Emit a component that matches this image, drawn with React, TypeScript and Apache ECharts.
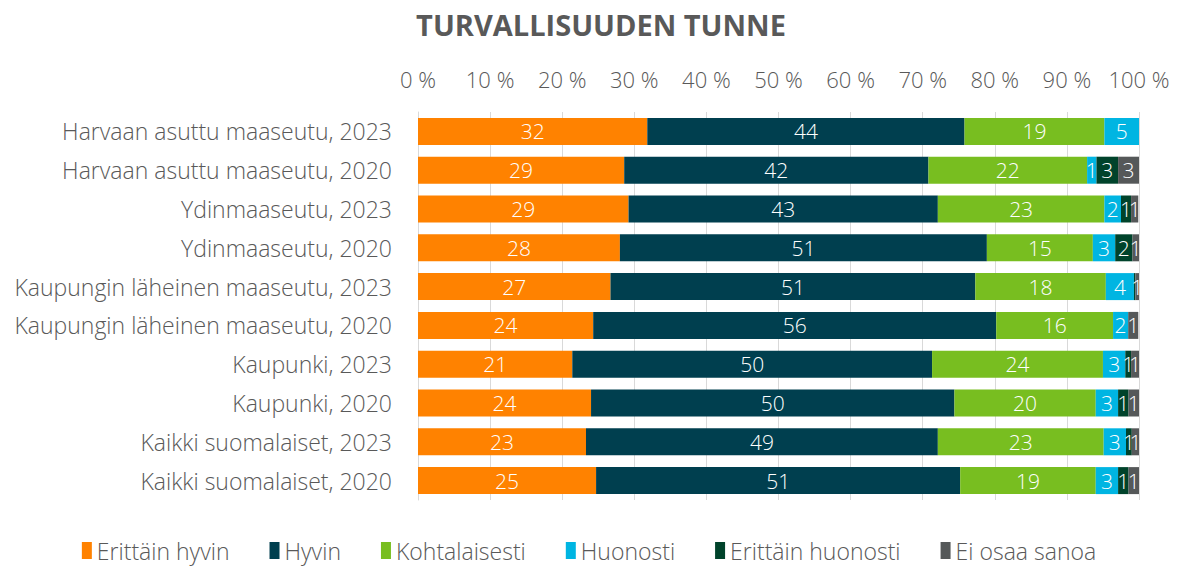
import React, { useEffect, useRef } from "react";
import * as echarts from "echarts";

const categories = [
  "Harvaan asuttu maaseutu, 2023",
  "Harvaan asuttu maaseutu, 2020",
  "Ydinmaaseutu, 2023",
  "Ydinmaaseutu, 2020",
  "Kaupungin läheinen maaseutu, 2023",
  "Kaupungin läheinen maaseutu, 2020",
  "Kaupunki, 2023",
  "Kaupunki, 2020",
  "Kaikki suomalaiset, 2023",
  "Kaikki suomalaiset, 2020",
];

const erittainHyvin = [31.8, 28.6, 29.2, 28.0, 26.7, 24.3, 21.4, 24.0, 23.3, 24.7];
const hyvin = [44.0, 42.2, 42.9, 50.9, 50.6, 55.9, 49.9, 50.4, 48.8, 50.5];
const kohtalaisesti = [19.4, 22.0, 23.1, 14.7, 18.1, 16.2, 23.7, 19.6, 23.0, 18.8];
const huonosti = [4.8, 1.3, 2.3, 3.1, 3.9, 2.1, 3.1, 3.1, 3.1, 3.1];
const erittainHuonosti = [0, 3.0, 1.4, 2.4, 0.2, 0, 0.8, 1.45, 0.8, 1.45];
const eiOsaaSanoa = [0, 2.9, 1.0, 0.9, 0.5, 1.4, 1.1, 1.45, 1.0, 1.45];

const seriesDefs = [
  { name: "Erittäin hyvin", data: erittainHyvin, color: "#FF8200" },
  { name: "Hyvin", data: hyvin, color: "#003F4F" },
  { name: "Kohtalaisesti", data: kohtalaisesti, color: "#78BE20" },
  { name: "Huonosti", data: huonosti, color: "#00B5E2" },
  { name: "Erittäin huonosti", data: erittainHuonosti, color: "#00432B" },
  { name: "Ei osaa sanoa", data: eiOsaaSanoa, color: "#555859" },
];

const FONT = "'Open Sans', 'Noto Sans', sans-serif";
const TEXT = "#595959";

export default function App() {
  const ref = useRef<HTMLDivElement>(null);
  useEffect(() => {
    if (!ref.current) return;
    const chart = echarts.init(ref.current, undefined, { renderer: "svg" });
    chart.setOption({
      animation: false,
      textStyle: { fontFamily: FONT },
      title: {
        text: "TURVALLISUUDEN TUNNE",
        left: 596,
        textAlign: "center",
        top: 5,
        textStyle: {
          fontFamily: FONT,
          fontSize: 29,
          fontWeight: "bold",
          color: TEXT,
        },
      },
      legend: {
        bottom: 2,
        left: "center",
        icon: "rect",
        itemWidth: 10,
        itemHeight: 17,
        itemGap: 40,
        textStyle: { fontFamily: FONT, fontSize: 23, fontWeight: 300, color: TEXT },
        data: seriesDefs.map((s) => s.name),
      },
      grid: { left: 418, right: 39, top: 112, bottom: 69 },
      xAxis: {
        type: "value",
        position: "top",
        min: 0,
        max: 100,
        interval: 10,
        axisLine: { show: false },
        axisTick: { show: false },
        axisLabel: {
          formatter: "{value} %",
          fontFamily: FONT,
          fontSize: 22,
          fontWeight: 300,
          color: TEXT,
          margin: 22,
        },
        splitLine: { lineStyle: { color: "#D9D9D9", width: 1 } },
      },
      yAxis: {
        type: "category",
        inverse: true,
        data: categories,
        axisLine: { show: true, lineStyle: { color: "#D9D9D9" } },
        axisTick: { show: false },
        axisLabel: {
          fontFamily: FONT,
          fontSize: 23,
          fontWeight: 300,
          color: TEXT,
          margin: 26,
        },
      },
      series: seriesDefs.map((s) => ({
        name: s.name,
        type: "bar",
        stack: "total",
        barWidth: 27,
        data: s.data,
        itemStyle: { color: s.color },
        label: {
          show: true,
          position: "inside",
          color: "#FFFFFF",
          fontFamily: FONT,
          fontSize: 21,
          fontWeight: 300,
          formatter: (p: any) => (p.value >= 0.5 ? String(Math.round(p.value)) : ""),
        },
      })),
    });
    return () => chart.dispose();
  }, []);
  return (
    <div
      ref={ref}
      style={{ position: "fixed", left: 0, top: 0, width: 1178, height: 569, background: "#fff" }}
    />
  );
}
